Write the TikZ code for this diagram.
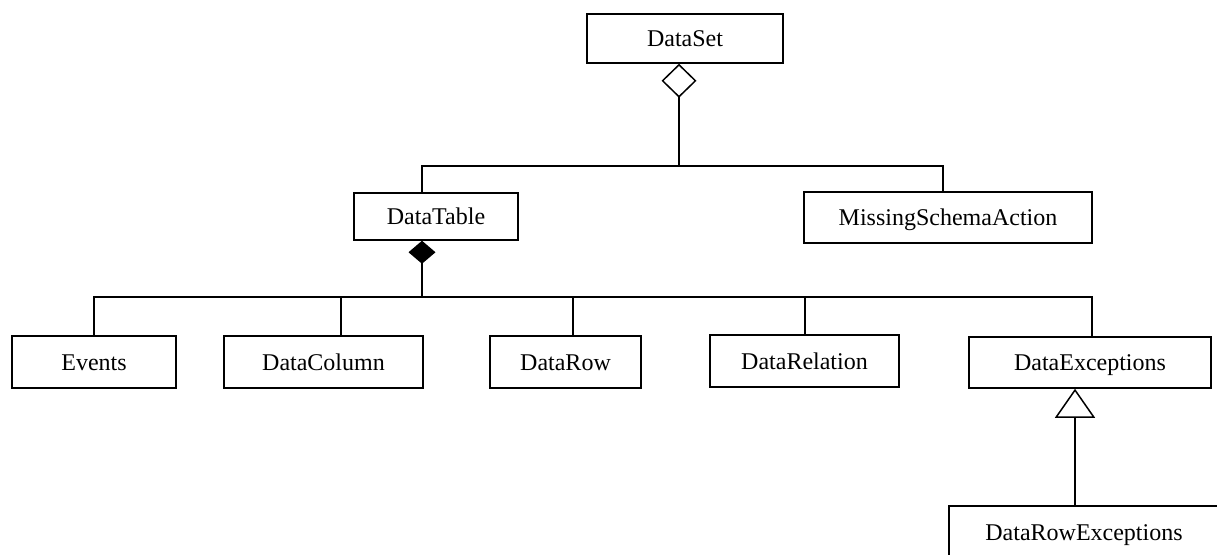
\documentclass[tikz,border=0pt]{standalone}
\usepackage{fontspec}
\setmainfont{Liberation Serif}
\usetikzlibrary{arrows.meta}

\tikzset{
  box/.style={draw, line width=0.75pt, inner sep=0pt, text height=8pt, text depth=0pt,
    font=\fontsize{12}{14}\selectfont},
  link/.style={line width=0.75pt},
  aggr/.style={link, {Diamond[open,length=17pt,width=17.5pt]}-},
  comp/.style={link, {Diamond[length=11.5pt,width=13.5pt]}-},
  inherit/.style={link, -{Triangle[open,length=14.5pt,width=20pt]}},
}

\begin{document}
\begin{tikzpicture}[x=0.5pt,y=-0.5pt]
\useasboundingbox (0,0) rectangle (1217,554);
\clip (0,0) rectangle (1217,554);

% classes
\node[box, minimum width=98pt,   minimum height=24.5pt] (dataset) at (685,38.5)  {DataSet};
\node[box, minimum width=82pt,   minimum height=23.5pt] (dtable)  at (436,216.5) {DataTable};
\node[box, minimum width=144pt,  minimum height=25.5pt] (msa)     at (948,217.5) {MissingSchemaAction};

\node[box, minimum width=82pt,   minimum height=26pt]   (events)  at (94,362)    {Events};
\node[box, minimum width=99.5pt, minimum height=26pt]   (dcol)    at (323.5,362) {DataColumn};
\node[box, minimum width=75.5pt, minimum height=26pt]   (drow)    at (565.5,362) {DataRow};
\node[box, minimum width=94.5pt, minimum height=26pt]   (drel)    at (804.5,361) {DataRelation};
\node[box, minimum width=121pt,  minimum height=25.5pt] (dexc)    at (1090,362.5) {DataExceptions};

\node[box, minimum width=135pt,  minimum height=26pt]   (drex)    at (1084,532)  {DataRowExceptions};

% bus lines
\coordinate (topbus) at (679,166);
\coordinate (midbus) at (422,297);

% DataSet aggregates its tables and schema action
\draw[aggr] ([xshift=-3pt]dataset.south) -- (topbus);
\draw[link] (topbus) -| ([xshift=-7pt]dtable.north);
\draw[link] (topbus) -| ([xshift=-2.5pt]msa.north);

% DataTable is composed of the bottom row
\draw[comp] ([xshift=-7pt]dtable.south) -- (midbus);
\foreach \n/\s in {events/0pt, dcol/8.75pt, drow/3.75pt, drel/0.25pt, dexc/1pt}
  \draw[link] (midbus) -| ([xshift=\s]\n.north);

% inheritance
\draw[inherit] ([xshift=-4.5pt]drex.north) -- ([xshift=-7.5pt]dexc.south);
\end{tikzpicture}
\end{document}
